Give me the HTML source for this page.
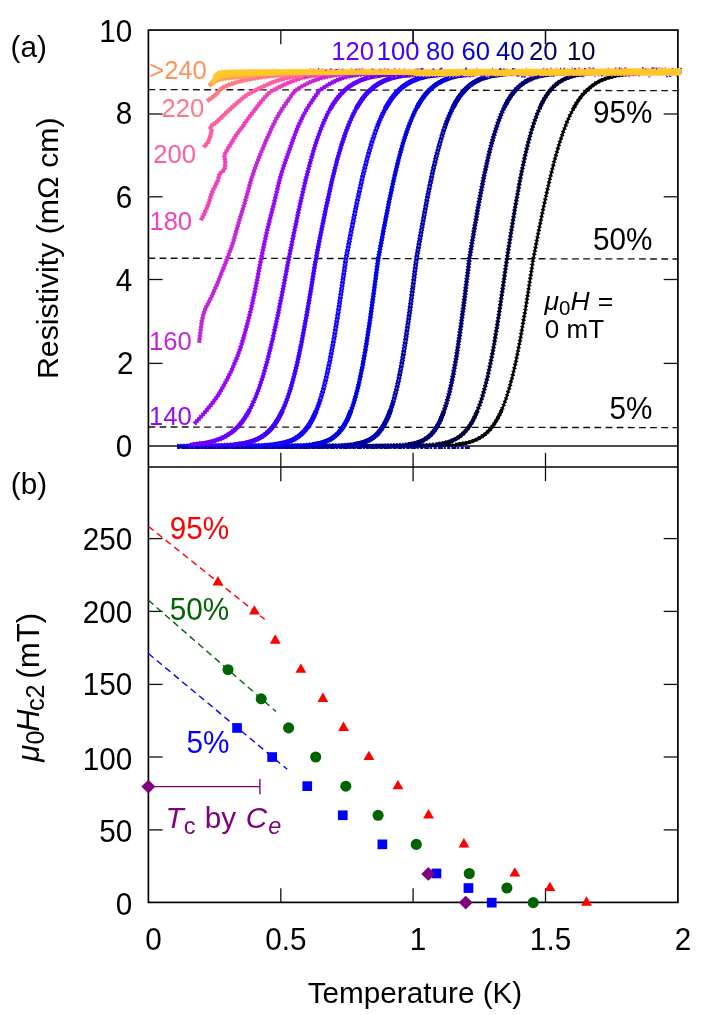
<!DOCTYPE html>
<html><head><meta charset="utf-8"><title>figure</title>
<style>html,body{margin:0;padding:0;background:#fff;}body{width:706px;height:1015px;position:relative;overflow:hidden;font-family:"Liberation Sans",sans-serif;}</style>
</head><body>
<svg width="706" height="1015" viewBox="0 0 706 1015" style="position:absolute;left:0;top:0;will-change:transform">
<rect width="706" height="1015" fill="#fff"/>
<line x1="148.4" y1="446.05" x2="677.9" y2="446.05" stroke="#111" stroke-width="1.4"/>
<line x1="148.4" y1="89.6" x2="677.9" y2="90.7" stroke="#111" stroke-width="1.35" stroke-dasharray="6.8 4.35"/>
<line x1="148.4" y1="258.2" x2="677.9" y2="259.0" stroke="#111" stroke-width="1.35" stroke-dasharray="6.8 4.35"/>
<line x1="148.4" y1="427.0" x2="677.9" y2="427.6" stroke="#111" stroke-width="1.35" stroke-dasharray="6.8 4.35"/>
<g stroke="#000" stroke-width="1.7" fill="none">
<rect x="148.40" y="30.05" width="529.50" height="872.35"/>
<line x1="148.4" y1="467.0" x2="677.9" y2="467.0" stroke-width="1.4"/>
</g>
<g stroke="#111" stroke-width="1.3">
<line x1="280.8" y1="30.1" x2="280.8" y2="44.2"/>
<line x1="280.8" y1="452.8" x2="280.8" y2="481.2"/>
<line x1="280.8" y1="888.2" x2="280.8" y2="902.4"/>
<line x1="413.1" y1="30.1" x2="413.1" y2="44.2"/>
<line x1="413.1" y1="452.8" x2="413.1" y2="481.2"/>
<line x1="413.1" y1="888.2" x2="413.1" y2="902.4"/>
<line x1="545.5" y1="30.1" x2="545.5" y2="44.2"/>
<line x1="545.5" y1="452.8" x2="545.5" y2="481.2"/>
<line x1="545.5" y1="888.2" x2="545.5" y2="902.4"/>
<line x1="148.4" y1="363.4" x2="162.6" y2="363.4"/>
<line x1="663.7" y1="363.4" x2="677.9" y2="363.4"/>
<line x1="148.4" y1="279.5" x2="162.6" y2="279.5"/>
<line x1="663.7" y1="279.5" x2="677.9" y2="279.5"/>
<line x1="148.4" y1="196.8" x2="162.6" y2="196.8"/>
<line x1="663.7" y1="196.8" x2="677.9" y2="196.8"/>
<line x1="148.4" y1="114.0" x2="162.6" y2="114.0"/>
<line x1="663.7" y1="114.0" x2="677.9" y2="114.0"/>
<line x1="148.4" y1="829.9" x2="162.6" y2="829.9"/>
<line x1="663.7" y1="829.9" x2="677.9" y2="829.9"/>
<line x1="148.4" y1="757.0" x2="162.6" y2="757.0"/>
<line x1="663.7" y1="757.0" x2="677.9" y2="757.0"/>
<line x1="148.4" y1="684.4" x2="162.6" y2="684.4"/>
<line x1="663.7" y1="684.4" x2="677.9" y2="684.4"/>
<line x1="148.4" y1="611.4" x2="162.6" y2="611.4"/>
<line x1="663.7" y1="611.4" x2="677.9" y2="611.4"/>
<line x1="148.4" y1="538.6" x2="162.6" y2="538.6"/>
<line x1="663.7" y1="538.6" x2="677.9" y2="538.6"/>
</g>
<g fill="none" stroke-linejoin="round">
<path d="M227.8 446.2 L253.2 446.2 L278.7 446.2 L304.1 446.2 L329.5 446.2 L354.9 446.2 L380.3 446.2 L405.7 446.2 L431.2 445.9 L455.5 444.7 L465.0 443.3 L471.4 441.6 L476.7 439.5 L480.9 437.2 L484.1 435.1 L487.3 432.3 L490.5 429.0 L493.6 424.9 L496.8 419.9 L500.0 413.8 L503.2 406.5 L506.3 397.8 L509.5 387.4 L512.7 375.4 L515.9 361.6 L520.1 340.3 L525.4 309.6 L529.6 282.7 L532.8 261.7 L538.1 233.9 L543.4 207.8 L549.8 179.1 L555.1 158.1 L559.3 143.6 L563.5 131.0 L566.7 122.8 L569.9 115.5 L573.1 109.2 L576.2 103.7 L579.4 98.9 L582.6 94.8 L586.8 90.3 L591.1 86.6 L595.3 83.6 L600.6 80.6 L606.9 78.1 L616.5 75.5 L639.8 72.7 L665.2 71.9 L681.1 71.7" stroke="#000000" stroke-width="2.4"/>
<path d="M227.8 446.2 L253.2 446.2 L278.7 446.2 L304.1 446.2 L329.5 446.2 L354.9 446.2 L380.3 446.2 L405.7 446.2 L431.2 445.9 L455.5 444.7 L465.0 443.3 L471.4 441.6 L476.7 439.5 L480.9 437.2 L484.1 435.1 L487.3 432.3 L490.5 429.0 L493.6 424.9 L496.8 419.9 L500.0 413.8 L503.2 406.5 L506.3 397.8 L509.5 387.4 L512.7 375.4 L515.9 361.6 L520.1 340.3 L525.4 309.6 L529.6 282.7 L532.8 261.7 L538.1 233.9 L543.4 207.8 L549.8 179.1 L555.1 158.1 L559.3 143.6 L563.5 131.0 L566.7 122.8 L569.9 115.5 L573.1 109.2 L576.2 103.7 L579.4 98.9 L582.6 94.8 L586.8 90.3 L591.1 86.6 L595.3 83.6 L600.6 80.6 L606.9 78.1 L616.5 75.5 L639.8 72.7 L665.2 71.9 L681.1 71.7" stroke="#000000" stroke-width="4.4" stroke-dasharray="1.2 2.3"/>
<path d="M455.5 444.7 L465.0 443.3 L471.4 441.6 L476.7 439.5 L480.9 437.2 L484.1 435.1 L487.3 432.3 L490.5 429.0 L493.6 424.9 L496.8 419.9 L500.0 413.8 L502.1 409.1 M573.1 109.2 L576.2 103.7 L579.4 98.9 L582.6 94.8 L586.8 90.3 L591.1 86.6 L595.3 83.6 L600.6 80.6 L606.9 78.1 L616.5 75.5 L639.8 72.7 L665.2 71.9 L681.1 71.7" stroke="#000000" stroke-width="3.4"/>
<path d="M214.6 446.2 L240.0 446.2 L265.4 446.2 L290.8 446.2 L316.3 446.2 L341.7 446.2 L367.1 446.2 L392.5 446.1 L417.9 445.8 L435.9 444.6 L444.4 443.1 L449.7 441.6 L453.9 439.9 L457.1 438.2 L460.3 436.0 L463.5 433.3 L466.6 429.9 L468.7 427.1 L470.9 424.0 L473.0 420.3 L475.1 416.1 L477.2 411.3 L479.3 405.8 L481.5 399.6 L484.6 388.7 L487.8 375.8 L491.0 360.8 L494.2 343.7 L498.4 317.9 L502.6 289.3 L506.9 259.2 L511.1 232.2 L515.3 206.4 L520.6 177.0 L524.9 156.6 L528.1 143.2 L531.2 131.5 L534.4 121.4 L537.6 112.8 L540.8 105.6 L543.9 99.5 L547.1 94.4 L550.3 90.2 L553.5 86.8 L556.6 84.0 L559.8 81.7 L564.1 79.3 L569.4 77.1 L576.8 75.0 L593.7 72.8 L619.1 71.9 L644.5 71.7 L670.0 71.6 L680.5 71.6" stroke="#000038" stroke-width="2.9"/>
<path d="M214.6 446.2 L240.0 446.2 L265.4 446.2 L290.8 446.2 L316.3 446.2 L341.7 446.2 L367.1 446.2 L392.5 446.1 L417.9 445.8 L435.9 444.6 L444.4 443.1 L449.7 441.6 L453.9 439.9 L457.1 438.2 L460.3 436.0 L463.5 433.3 L466.6 429.9 L468.7 427.1 L470.9 424.0 L473.0 420.3 L475.1 416.1 L477.2 411.3 L479.3 405.8 L481.5 399.6 L484.6 388.7 L487.8 375.8 L491.0 360.8 L494.2 343.7 L498.4 317.9 L502.6 289.3 L506.9 259.2 L511.1 232.2 L515.3 206.4 L520.6 177.0 L524.9 156.6 L528.1 143.2 L531.2 131.5 L534.4 121.4 L537.6 112.8 L540.8 105.6 L543.9 99.5 L547.1 94.4 L550.3 90.2 L553.5 86.8 L556.6 84.0 L559.8 81.7 L564.1 79.3 L569.4 77.1 L576.8 75.0 L593.7 72.8 L619.1 71.9 L644.5 71.7 L670.0 71.6 L680.5 71.6" stroke="#000038" stroke-width="4.6" stroke-dasharray="1.5 1.8"/>
<path d="M435.9 444.6 L444.4 443.1 L449.7 441.6 L453.9 439.9 L457.1 438.2 L460.3 436.0 L463.5 433.3 L466.6 429.9 L468.7 427.1 L470.9 424.0 L473.0 420.3 L475.1 416.1 L477.2 411.3 M539.7 107.8 L542.9 101.4 L546.1 96.0 L549.2 91.5 L552.4 87.9 L555.6 84.9 L558.8 82.4 L563.0 79.8 L568.3 77.4 L575.7 75.2 L590.5 73.1 L615.9 72.0 L641.4 71.7 L666.8 71.6 L680.5 71.6" stroke="#000038" stroke-width="3.9"/>
<path d="M201.4 446.2 L226.8 446.2 L252.2 446.2 L277.6 446.2 L303.0 446.2 L328.4 446.2 L353.8 446.2 L379.3 446.1 L403.6 445.2 L412.1 444.0 L417.4 442.7 L421.6 441.1 L424.8 439.4 L428.0 437.2 L430.1 435.4 L432.2 433.2 L434.3 430.6 L436.4 427.5 L438.6 423.8 L440.7 419.5 L442.8 414.4 L444.9 408.4 L447.0 401.4 L449.2 393.4 L451.3 384.1 L453.4 373.7 L456.6 355.6 L459.7 334.6 L464.0 302.8 L467.2 276.9 L469.3 259.2 L473.5 233.8 L478.8 203.3 L484.1 175.8 L488.3 156.6 L491.5 143.9 L494.7 132.8 L497.9 123.0 L501.0 114.6 L504.2 107.5 L507.4 101.4 L510.6 96.3 L513.8 92.0 L516.9 88.5 L520.1 85.5 L524.3 82.4 L528.6 80.0 L533.9 77.7 L541.3 75.5 L556.1 73.3 L581.5 72.1 L606.9 71.8 L632.4 71.7 L657.8 71.6 L681.1 71.6" stroke="#000070" stroke-width="3.4"/>
<path d="M201.4 446.2 L226.8 446.2 L252.2 446.2 L277.6 446.2 L303.0 446.2 L328.4 446.2 L353.8 446.2 L379.3 446.1 L403.6 445.2 L412.1 444.0 L417.4 442.7 L421.6 441.1 L424.8 439.4 L428.0 437.2 L430.1 435.4 L432.2 433.2 L434.3 430.6 L436.4 427.5 L438.6 423.8 L440.7 419.5 L442.8 414.4 L444.9 408.4 L447.0 401.4 L449.2 393.4 L451.3 384.1 L453.4 373.7 L456.6 355.6 L459.7 334.6 L464.0 302.8 L467.2 276.9 L469.3 259.2 L473.5 233.8 L478.8 203.3 L484.1 175.8 L488.3 156.6 L491.5 143.9 L494.7 132.8 L497.9 123.0 L501.0 114.6 L504.2 107.5 L507.4 101.4 L510.6 96.3 L513.8 92.0 L516.9 88.5 L520.1 85.5 L524.3 82.4 L528.6 80.0 L533.9 77.7 L541.3 75.5 L556.1 73.3 L581.5 72.1 L606.9 71.8 L632.4 71.7 L657.8 71.6 L681.1 71.6" stroke="#000070" stroke-width="5.0" stroke-dasharray="1.4 1.6"/>
<path d="M407.9 444.7 L415.3 443.3 L419.5 441.9 L422.7 440.6 L425.9 438.7 L429.0 436.3 L431.2 434.3 L433.3 432.0 L435.4 429.1 L437.5 425.7 L439.6 421.7 L441.7 417.0 L443.9 411.5 M504.2 107.5 L507.4 101.4 L510.6 96.3 L513.8 92.0 L516.9 88.5 L520.1 85.5 L524.3 82.4 L528.6 80.0 L533.9 77.7 L541.3 75.5 L556.1 73.3 L581.5 72.1 L606.9 71.8 L632.4 71.7 L657.8 71.6 L681.1 71.6" stroke="#000070" stroke-width="4.4"/>
<path d="M188.1 446.2 L213.5 446.2 L238.9 446.2 L264.4 446.2 L289.8 446.2 L315.2 446.1 L340.6 445.7 L354.4 444.5 L360.7 443.2 L365.0 441.9 L369.2 440.0 L372.4 438.1 L375.6 435.6 L377.7 433.6 L379.8 431.1 L381.9 428.2 L384.0 424.8 L386.1 420.8 L388.3 416.1 L390.4 410.6 L392.5 404.2 L394.6 396.9 L396.7 388.4 L398.9 378.9 L402.0 362.3 L405.2 343.0 L409.4 313.5 L413.7 280.7 L415.8 263.6 L416.9 256.2 L422.2 226.0 L427.4 197.4 L432.7 171.7 L437.0 153.8 L440.2 142.0 L443.3 131.5 L446.5 122.3 L449.7 114.4 L452.9 107.6 L456.0 101.8 L459.2 96.8 L462.4 92.7 L465.6 89.2 L468.7 86.3 L473.0 83.1 L477.2 80.6 L482.5 78.3 L489.9 76.0 L504.8 73.7 L530.2 72.4 L555.6 72.0 L581.0 71.9 L606.4 71.8 L631.8 71.7 L657.2 71.6 L680.5 71.6" stroke="#0000a8" stroke-width="4.0"/>
<path d="M188.1 446.2 L213.5 446.2 L238.9 446.2 L264.4 446.2 L289.8 446.2 L315.2 446.1 L340.6 445.7 L354.4 444.5 L360.7 443.2 L365.0 441.9 L369.2 440.0 L372.4 438.1 L375.6 435.6 L377.7 433.6 L379.8 431.1 L381.9 428.2 L384.0 424.8 L386.1 420.8 L388.3 416.1 L390.4 410.6 L392.5 404.2 L394.6 396.9 L396.7 388.4 L398.9 378.9 L402.0 362.3 L405.2 343.0 L409.4 313.5 L413.7 280.7 L415.8 263.6 L416.9 256.2 L422.2 226.0 L427.4 197.4 L432.7 171.7 L437.0 153.8 L440.2 142.0 L443.3 131.5 L446.5 122.3 L449.7 114.4 L452.9 107.6 L456.0 101.8 L459.2 96.8 L462.4 92.7 L465.6 89.2 L468.7 86.3 L473.0 83.1 L477.2 80.6 L482.5 78.3 L489.9 76.0 L504.8 73.7 L530.2 72.4 L555.6 72.0 L581.0 71.9 L606.4 71.8 L631.8 71.7 L657.2 71.6 L680.5 71.6" stroke="#0000a8" stroke-width="5.0" stroke-dasharray="1.5 1.5"/>
<path d="M353.3 444.6 L360.7 443.2 L365.0 441.9 L369.2 440.0 L372.4 438.1 L375.6 435.6 L377.7 433.6 L379.8 431.1 L381.9 428.2 L384.0 424.8 L386.1 420.8 L388.3 416.1 L390.4 410.6 M452.9 107.6 L456.0 101.8 L459.2 96.8 L462.4 92.7 L465.6 89.2 L468.7 86.3 L473.0 83.1 L477.2 80.6 L482.5 78.3 L489.9 76.0 L504.8 73.7 L530.2 72.4 L555.6 72.0 L581.0 71.9 L606.4 71.8 L631.8 71.7 L657.2 71.6 L680.5 71.6" stroke="#0000a8" stroke-width="5.0"/>
<path d="M393.6 400.7 L395.7 392.8 L397.8 383.8 L401.0 368.1 L404.1 349.8 L408.4 321.3 L412.6 289.1 L415.8 263.6 L416.9 256.2 L422.2 226.0 L427.4 197.4 L432.7 171.7 L437.0 153.8 L440.2 142.0 L443.3 131.5 L445.4 125.2" stroke="#fff" stroke-opacity="0.45" stroke-width="1.3" stroke-dasharray="1.6 2.4"/>
<path d="M177.3 446.2 L202.7 446.2 L228.1 446.2 L253.5 446.2 L278.9 446.1 L304.3 445.4 L316.0 444.1 L322.3 442.6 L326.6 441.1 L329.8 439.6 L332.9 437.7 L336.1 435.2 L338.2 433.1 L340.3 430.7 L342.5 427.9 L344.6 424.6 L346.7 420.7 L348.8 416.2 L350.9 410.9 L353.1 404.9 L355.2 397.9 L357.3 390.0 L359.4 381.1 L362.6 365.6 L365.8 347.7 L370.0 320.1 L374.2 289.2 L377.4 264.7 L378.5 257.3 L383.8 228.7 L389.1 201.5 L394.4 176.7 L398.6 159.2 L402.8 143.8 L406.0 133.7 L409.2 124.7 L412.4 116.9 L415.5 110.1 L418.7 104.3 L421.9 99.3 L425.1 95.0 L428.2 91.3 L431.4 88.2 L435.7 84.9 L439.9 82.2 L445.2 79.6 L452.6 77.0 L464.2 74.7 L489.7 72.7 L515.1 72.2 L540.5 72.0 L565.9 71.9 L591.3 71.8 L616.7 71.8 L642.2 71.7 L667.6 71.6 L680.3 71.6" stroke="#0000e0" stroke-width="3.8"/>
<path d="M177.3 446.2 L202.7 446.2 L228.1 446.2 L253.5 446.2 L278.9 446.1 L304.3 445.4 L316.0 444.1 L322.3 442.6 L326.6 441.1 L329.8 439.6 L332.9 437.7 L336.1 435.2 L338.2 433.1 L340.3 430.7 L342.5 427.9 L344.6 424.6 L346.7 420.7 L348.8 416.2 L350.9 410.9 L353.1 404.9 L355.2 397.9 L357.3 390.0 L359.4 381.1 L362.6 365.6 L365.8 347.7 L370.0 320.1 L374.2 289.2 L377.4 264.7 L378.5 257.3 L383.8 228.7 L389.1 201.5 L394.4 176.7 L398.6 159.2 L402.8 143.8 L406.0 133.7 L409.2 124.7 L412.4 116.9 L415.5 110.1 L418.7 104.3 L421.9 99.3 L425.1 95.0 L428.2 91.3 L431.4 88.2 L435.7 84.9 L439.9 82.2 L445.2 79.6 L452.6 77.0 L464.2 74.7 L489.7 72.7 L515.1 72.2 L540.5 72.0 L565.9 71.9 L591.3 71.8 L616.7 71.8 L642.2 71.7 L667.6 71.6 L680.3 71.6" stroke="#0000e0" stroke-width="4.8" stroke-dasharray="1.3 1.7"/>
<path d="M312.8 444.6 L320.2 443.2 L325.5 441.6 L329.8 439.6 L332.9 437.7 L336.1 435.2 L338.2 433.1 L340.3 430.7 L342.5 427.9 L344.6 424.6 L346.7 420.7 L348.8 416.2 L350.9 410.9 M416.6 108.1 L419.8 102.5 L422.9 97.8 L426.1 93.7 L429.3 90.2 L433.5 86.5 L437.8 83.4 L443.1 80.5 L449.4 78.0 L459.0 75.5 L484.4 72.9 L509.8 72.3 L535.2 72.1 L560.6 71.9 L586.0 71.9 L611.4 71.8 L636.9 71.7 L662.3 71.6 L680.3 71.6" stroke="#0000e0" stroke-width="4.8"/>
<path d="M186.0 446.2 L211.4 446.2 L236.8 446.1 L262.2 445.6 L277.1 444.2 L284.5 442.8 L289.8 441.1 L294.0 439.2 L297.2 437.3 L300.4 434.9 L303.5 431.9 L305.7 429.6 L307.8 426.8 L309.9 423.6 L312.0 419.9 L314.1 415.7 L316.3 410.8 L318.4 405.3 L320.5 399.0 L323.7 388.1 L326.8 375.2 L330.0 360.2 L334.3 336.9 L338.5 310.4 L342.7 281.4 L345.9 259.0 L351.2 231.2 L356.5 204.7 L362.8 175.8 L367.1 158.9 L371.3 144.0 L375.6 131.2 L378.7 122.8 L381.9 115.5 L385.1 109.1 L388.3 103.6 L391.4 98.8 L394.6 94.7 L397.8 91.2 L402.0 87.4 L406.3 84.3 L411.6 81.3 L417.9 78.6 L427.4 76.0 L449.7 73.3 L475.1 72.5 L500.5 72.2 L525.9 72.1 L551.3 72.0 L576.8 71.9 L602.2 71.8 L627.6 71.7 L653.0 71.6 L678.4 71.6 L680.5 71.6" stroke="#1400ff" stroke-width="4.0"/>
<path d="M186.0 446.2 L211.4 446.2 L236.8 446.1 L262.2 445.6 L277.1 444.2 L284.5 442.8 L289.8 441.1 L294.0 439.2 L297.2 437.3 L300.4 434.9 L303.5 431.9 L305.7 429.6 L307.8 426.8 L309.9 423.6 L312.0 419.9 L314.1 415.7 L316.3 410.8 L318.4 405.3 L320.5 399.0 L323.7 388.1 L326.8 375.2 L330.0 360.2 L334.3 336.9 L338.5 310.4 L342.7 281.4 L345.9 259.0 L351.2 231.2 L356.5 204.7 L362.8 175.8 L367.1 158.9 L371.3 144.0 L375.6 131.2 L378.7 122.8 L381.9 115.5 L385.1 109.1 L388.3 103.6 L391.4 98.8 L394.6 94.7 L397.8 91.2 L402.0 87.4 L406.3 84.3 L411.6 81.3 L417.9 78.6 L427.4 76.0 L449.7 73.3 L475.1 72.5 L500.5 72.2 L525.9 72.1 L551.3 72.0 L576.8 71.9 L602.2 71.8 L627.6 71.7 L653.0 71.6 L678.4 71.6 L680.5 71.6" stroke="#1400ff" stroke-width="5.0" stroke-dasharray="1.5 1.5"/>
<path d="M273.9 444.7 L282.4 443.3 L288.7 441.5 L293.0 439.7 L296.1 438.0 L299.3 435.8 L302.5 433.0 L305.7 429.6 L307.8 426.8 L309.9 423.6 L312.0 419.9 L314.1 415.7 L316.3 410.8 M385.1 109.1 L388.3 103.6 L391.4 98.8 L394.6 94.7 L397.8 91.2 L402.0 87.4 L406.3 84.3 L411.6 81.3 L417.9 78.6 L427.4 76.0 L449.7 73.3 L475.1 72.5 L500.5 72.2 L525.9 72.1 L551.3 72.0 L576.8 71.9 L602.2 71.8 L627.6 71.7 L653.0 71.6 L678.4 71.6 L680.5 71.6" stroke="#1400ff" stroke-width="5.0"/>
<path d="M320.5 399.0 L323.7 388.1 L326.8 375.2 L330.0 360.2 L334.3 336.9 L338.5 310.4 L342.7 281.4 L345.9 259.0 L351.2 231.2 L356.5 204.7 L362.8 175.8 L367.1 158.9 L371.3 144.0 L375.6 131.2 L377.7 125.5" stroke="#fff" stroke-opacity="0.45" stroke-width="1.3" stroke-dasharray="1.6 2.4"/>
<path d="M188.1 446.1 L213.5 445.8 L236.8 444.4 L246.4 442.8 L252.7 441.0 L258.0 438.8 L262.2 436.4 L265.4 434.2 L268.6 431.4 L271.8 428.0 L275.0 423.9 L278.1 419.0 L281.3 413.0 L284.5 405.9 L287.7 397.5 L290.8 387.7 L294.0 376.3 L297.2 363.3 L301.4 343.3 L306.7 314.6 L311.0 289.3 L315.2 262.8 L320.5 235.0 L325.8 208.8 L332.1 180.0 L337.4 159.0 L341.7 144.4 L345.9 131.8 L349.1 123.6 L352.3 116.3 L355.4 109.9 L358.6 104.4 L361.8 99.7 L365.0 95.5 L369.2 91.0 L373.4 87.3 L377.7 84.3 L383.0 81.3 L389.3 78.7 L398.9 76.2 L422.2 73.4 L447.6 72.5 L473.0 72.3 L498.4 72.1 L523.8 72.1 L549.2 72.0 L574.6 71.9 L600.1 71.8 L625.5 71.7 L650.9 71.6 L676.3 71.6 L680.5 71.6" stroke="#4000ff" stroke-width="3.8"/>
<path d="M188.1 446.1 L213.5 445.8 L236.8 444.4 L246.4 442.8 L252.7 441.0 L258.0 438.8 L262.2 436.4 L265.4 434.2 L268.6 431.4 L271.8 428.0 L275.0 423.9 L278.1 419.0 L281.3 413.0 L284.5 405.9 L287.7 397.5 L290.8 387.7 L294.0 376.3 L297.2 363.3 L301.4 343.3 L306.7 314.6 L311.0 289.3 L315.2 262.8 L320.5 235.0 L325.8 208.8 L332.1 180.0 L337.4 159.0 L341.7 144.4 L345.9 131.8 L349.1 123.6 L352.3 116.3 L355.4 109.9 L358.6 104.4 L361.8 99.7 L365.0 95.5 L369.2 91.0 L373.4 87.3 L377.7 84.3 L383.0 81.3 L389.3 78.7 L398.9 76.2 L422.2 73.4 L447.6 72.5 L473.0 72.3 L498.4 72.1 L523.8 72.1 L549.2 72.0 L574.6 71.9 L600.1 71.8 L625.5 71.7 L650.9 71.6 L676.3 71.6 L680.5 71.6" stroke="#4000ff" stroke-width="4.8" stroke-dasharray="1.3 1.7"/>
<path d="M234.7 444.6 L245.3 443.0 L251.7 441.4 L256.9 439.3 L261.2 437.1 L264.4 435.0 L267.5 432.4 L270.7 429.2 L273.9 425.4 L277.1 420.7 L280.2 415.1 L282.4 410.8 M356.5 108.0 L359.7 102.8 L362.8 98.2 L366.0 94.3 L370.3 90.0 L374.5 86.4 L378.7 83.6 L384.0 80.8 L391.4 78.0 L402.0 75.6 L427.4 73.1 L452.9 72.5 L478.3 72.2 L503.7 72.1 L529.1 72.0 L554.5 72.0 L579.9 71.9 L605.4 71.8 L630.8 71.7 L656.2 71.6 L680.5 71.6" stroke="#4000ff" stroke-width="4.8"/>
<path d="M190.2 444.9 L205.1 443.1 L213.5 441.2 L219.9 439.0 L225.2 436.5 L229.4 433.9 L233.6 430.7 L236.8 427.8 L240.0 424.3 L243.2 420.3 L246.4 415.6 L249.5 410.1 L252.7 403.7 L255.9 396.4 L259.1 388.0 L263.3 375.1 L267.5 360.1 L272.8 338.5 L278.1 313.9 L283.4 287.1 L288.7 259.1 L294.0 232.8 L299.3 207.5 L305.7 179.7 L311.0 159.4 L315.2 145.1 L319.4 132.8 L323.7 122.2 L326.8 115.3 L330.0 109.3 L333.2 104.0 L336.4 99.4 L340.6 94.3 L344.8 90.1 L349.1 86.6 L354.4 83.3 L360.7 80.2 L369.2 77.4 L383.0 74.8 L408.4 73.0 L433.8 72.5 L459.2 72.3 L484.6 72.2 L510.0 72.1 L535.5 72.0 L560.9 71.9 L586.3 71.9 L611.7 71.8 L637.1 71.7 L662.5 71.6 L680.5 71.6" stroke="#6c00ff" stroke-width="3.4"/>
<path d="M190.2 444.9 L205.1 443.1 L213.5 441.2 L219.9 439.0 L225.2 436.5 L229.4 433.9 L233.6 430.7 L236.8 427.8 L240.0 424.3 L243.2 420.3 L246.4 415.6 L249.5 410.1 L252.7 403.7 L255.9 396.4 L259.1 388.0 L263.3 375.1 L267.5 360.1 L272.8 338.5 L278.1 313.9 L283.4 287.1 L288.7 259.1 L294.0 232.8 L299.3 207.5 L305.7 179.7 L311.0 159.4 L315.2 145.1 L319.4 132.8 L323.7 122.2 L326.8 115.3 L330.0 109.3 L333.2 104.0 L336.4 99.4 L340.6 94.3 L344.8 90.1 L349.1 86.6 L354.4 83.3 L360.7 80.2 L369.2 77.4 L383.0 74.8 L408.4 73.0 L433.8 72.5 L459.2 72.3 L484.6 72.2 L510.0 72.1 L535.5 72.0 L560.9 71.9 L586.3 71.9 L611.7 71.8 L637.1 71.7 L662.5 71.6 L680.5 71.6" stroke="#6c00ff" stroke-width="4.8" stroke-dasharray="1.4 1.6"/>
<path d="M192.3 444.7 L206.1 442.9 L214.6 440.8 L220.9 438.5 L226.2 435.9 L230.5 433.2 L234.7 429.8 L237.9 426.7 L241.1 423.1 L244.2 418.8 L247.4 413.8 L249.5 410.1 M330.0 109.3 L333.2 104.0 L336.4 99.4 L340.6 94.3 L344.8 90.1 L349.1 86.6 L354.4 83.3 L360.7 80.2 L369.2 77.4 L383.0 74.8 L408.4 73.0 L433.8 72.5 L459.2 72.3 L484.6 72.2 L510.0 72.1 L535.5 72.0 L560.9 71.9 L586.3 71.9 L611.7 71.8 L637.1 71.7 L662.5 71.6 L680.5 71.6" stroke="#6c00ff" stroke-width="4.4"/>
<path d="M194.4 423.8 C196.1 421.9 201.1 416.8 204.7 412.5 C208.3 408.2 212.7 403.0 216.0 398.3 C219.3 393.6 221.7 389.3 224.5 384.1 C227.3 378.9 230.2 373.7 233.0 367.1 C235.8 360.5 238.7 353.5 241.5 344.5 C244.3 335.5 247.7 322.8 250.0 313.3 C252.3 303.9 253.7 297.0 255.6 287.8 C257.5 278.6 259.4 267.5 261.3 258.1 C263.2 248.7 264.9 240.4 267.0 231.2 C269.1 222.0 271.8 212.2 274.1 202.8 C276.5 193.4 278.5 183.5 281.1 174.6 C283.7 165.7 286.8 157.2 289.6 149.2 C292.4 141.2 295.3 133.1 298.1 126.5 C300.9 119.9 303.3 115.2 306.6 109.5 C309.9 103.8 315.6 95.8 318.0 92.5 C320.4 89.2 318.4 91.4 320.8 89.7 C323.2 88.0 327.9 84.7 332.1 82.6 C336.4 80.5 340.8 78.3 346.3 76.9 C351.8 75.5 357.7 74.7 365.0 74.0 C372.3 73.3 380.8 73.2 390.0 72.9 C399.2 72.7 411.7 72.6 420.0 72.5 C428.3 72.4 433.3 72.4 440.0 72.3 C446.7 72.3 453.3 72.3 460.0 72.2 C466.7 72.2 473.3 72.2 480.0 72.2 C486.7 72.2 493.3 72.1 500.0 72.1 C506.7 72.1 513.3 72.1 520.0 72.1 C526.7 72.0 533.3 72.0 540.0 72.0 C546.7 72.0 553.3 72.0 560.0 71.9 C566.7 71.9 573.3 71.9 580.0 71.9 C586.7 71.9 593.3 71.8 600.0 71.8 C606.7 71.8 613.3 71.8 620.0 71.7 C626.7 71.7 633.3 71.7 640.0 71.7 C646.7 71.7 653.2 71.6 660.0 71.6 C666.8 71.6 677.4 71.6 680.9 71.6" stroke="#970af5" stroke-width="3.4"/>
<path d="M194.4 423.8 C196.1 421.9 201.1 416.8 204.7 412.5 C208.3 408.2 212.7 403.0 216.0 398.3 C219.3 393.6 221.7 389.3 224.5 384.1 C227.3 378.9 230.2 373.7 233.0 367.1 C235.8 360.5 238.7 353.5 241.5 344.5 C244.3 335.5 247.7 322.8 250.0 313.3 C252.3 303.9 253.7 297.0 255.6 287.8 C257.5 278.6 259.4 267.5 261.3 258.1 C263.2 248.7 264.9 240.4 267.0 231.2 C269.1 222.0 271.8 212.2 274.1 202.8 C276.5 193.4 278.5 183.5 281.1 174.6 C283.7 165.7 286.8 157.2 289.6 149.2 C292.4 141.2 295.3 133.1 298.1 126.5 C300.9 119.9 303.3 115.2 306.6 109.5 C309.9 103.8 315.6 95.8 318.0 92.5 C320.4 89.2 318.4 91.4 320.8 89.7 C323.2 88.0 327.9 84.7 332.1 82.6 C336.4 80.5 340.8 78.3 346.3 76.9 C351.8 75.5 357.7 74.7 365.0 74.0 C372.3 73.3 380.8 73.2 390.0 72.9 C399.2 72.7 411.7 72.6 420.0 72.5 C428.3 72.4 433.3 72.4 440.0 72.3 C446.7 72.3 453.3 72.3 460.0 72.2 C466.7 72.2 473.3 72.2 480.0 72.2 C486.7 72.2 493.3 72.1 500.0 72.1 C506.7 72.1 513.3 72.1 520.0 72.1 C526.7 72.0 533.3 72.0 540.0 72.0 C546.7 72.0 553.3 72.0 560.0 71.9 C566.7 71.9 573.3 71.9 580.0 71.9 C586.7 71.9 593.3 71.8 600.0 71.8 C606.7 71.8 613.3 71.8 620.0 71.7 C626.7 71.7 633.3 71.7 640.0 71.7 C646.7 71.7 653.2 71.6 660.0 71.6 C666.8 71.6 677.4 71.6 680.9 71.6" stroke="#970af5" stroke-width="4.8" stroke-dasharray="1.4 1.6"/>
<path d="M199.1 342.6 C199.6 339.1 200.9 327.2 201.8 321.8 C202.7 316.4 203.0 314.8 204.7 310.5 C206.3 306.2 209.1 302.0 211.7 296.3 C214.3 290.6 217.6 282.9 220.2 276.5 C222.8 270.1 225.2 263.8 227.3 258.1 C229.4 252.4 231.1 248.4 233.0 242.5 C234.9 236.6 236.8 229.1 238.7 222.7 C240.6 216.3 242.0 212.2 244.3 204.2 C246.7 196.2 250.0 183.3 252.8 174.6 C255.6 165.9 258.5 159.1 261.3 152.0 C264.1 144.9 267.0 138.3 269.8 132.2 C272.6 126.1 275.0 120.9 278.3 115.2 C281.6 109.5 286.5 102.5 289.6 98.2 C292.7 94.0 292.9 92.5 296.7 89.7 C300.5 86.9 306.9 83.5 312.3 81.2 C317.7 78.9 323.6 77.3 329.3 76.1 C335.0 74.9 339.5 74.3 346.3 73.8 C353.1 73.3 361.1 73.1 370.0 72.9 C378.9 72.7 391.7 72.6 400.0 72.5 C408.3 72.4 413.3 72.4 420.0 72.4 C426.7 72.3 433.3 72.3 440.0 72.3 C446.7 72.3 453.3 72.3 460.0 72.2 C466.7 72.2 473.3 72.2 480.0 72.2 C486.7 72.2 493.3 72.1 500.0 72.1 C506.7 72.1 513.3 72.1 520.0 72.1 C526.7 72.0 533.3 72.0 540.0 72.0 C546.7 72.0 553.3 72.0 560.0 71.9 C566.7 71.9 573.3 71.9 580.0 71.9 C586.7 71.9 593.3 71.8 600.0 71.8 C606.7 71.8 613.3 71.8 620.0 71.7 C626.7 71.7 633.3 71.7 640.0 71.7 C646.7 71.7 653.2 71.6 660.0 71.6 C666.8 71.6 677.4 71.6 680.9 71.6" stroke="#c326d9" stroke-width="3.4"/>
<path d="M199.1 342.6 C199.6 339.1 200.9 327.2 201.8 321.8 C202.7 316.4 203.0 314.8 204.7 310.5 C206.3 306.2 209.1 302.0 211.7 296.3 C214.3 290.6 217.6 282.9 220.2 276.5 C222.8 270.1 225.2 263.8 227.3 258.1 C229.4 252.4 231.1 248.4 233.0 242.5 C234.9 236.6 236.8 229.1 238.7 222.7 C240.6 216.3 242.0 212.2 244.3 204.2 C246.7 196.2 250.0 183.3 252.8 174.6 C255.6 165.9 258.5 159.1 261.3 152.0 C264.1 144.9 267.0 138.3 269.8 132.2 C272.6 126.1 275.0 120.9 278.3 115.2 C281.6 109.5 286.5 102.5 289.6 98.2 C292.7 94.0 292.9 92.5 296.7 89.7 C300.5 86.9 306.9 83.5 312.3 81.2 C317.7 78.9 323.6 77.3 329.3 76.1 C335.0 74.9 339.5 74.3 346.3 73.8 C353.1 73.3 361.1 73.1 370.0 72.9 C378.9 72.7 391.7 72.6 400.0 72.5 C408.3 72.4 413.3 72.4 420.0 72.4 C426.7 72.3 433.3 72.3 440.0 72.3 C446.7 72.3 453.3 72.3 460.0 72.2 C466.7 72.2 473.3 72.2 480.0 72.2 C486.7 72.2 493.3 72.1 500.0 72.1 C506.7 72.1 513.3 72.1 520.0 72.1 C526.7 72.0 533.3 72.0 540.0 72.0 C546.7 72.0 553.3 72.0 560.0 71.9 C566.7 71.9 573.3 71.9 580.0 71.9 C586.7 71.9 593.3 71.8 600.0 71.8 C606.7 71.8 613.3 71.8 620.0 71.7 C626.7 71.7 633.3 71.7 640.0 71.7 C646.7 71.7 653.2 71.6 660.0 71.6 C666.8 71.6 677.4 71.6 680.9 71.6" stroke="#c326d9" stroke-width="4.7" stroke-dasharray="1.4 1.6"/>
<path d="M201.0 220.3 C201.9 218.4 205.1 212.2 206.6 208.6 C208.1 205.0 209.0 202.0 210.0 199.0 C211.0 196.0 211.5 193.7 212.8 190.7 C214.1 187.7 216.4 183.8 217.6 181.0 C218.8 178.2 218.6 176.0 219.7 174.1 C220.8 172.2 223.4 171.4 224.3 169.3 C225.2 167.2 225.1 164.1 225.2 161.7 C225.3 159.3 223.9 157.6 224.7 154.8 C225.5 152.1 228.0 148.6 230.0 145.2 C232.0 141.8 234.7 137.3 236.9 134.1 C239.1 130.9 241.7 127.9 243.1 125.9 C244.5 124.0 243.7 124.5 245.2 122.4 C246.7 120.3 249.3 117.0 252.1 113.4 C254.8 109.8 258.8 104.4 261.7 101.0 C264.6 97.6 267.0 94.8 269.3 92.8 C271.6 90.8 272.1 90.8 275.5 89.0 C278.9 87.2 284.4 84.3 289.6 82.3 C294.8 80.3 300.0 78.3 306.6 76.9 C313.2 75.5 320.4 74.5 329.3 73.8 C338.2 73.1 348.2 73.1 360.0 72.9 C371.8 72.7 390.0 72.7 400.0 72.6 C410.0 72.5 413.3 72.4 420.0 72.4 C426.7 72.3 433.3 72.3 440.0 72.3 C446.7 72.3 453.3 72.3 460.0 72.2 C466.7 72.2 473.3 72.2 480.0 72.2 C486.7 72.2 493.3 72.1 500.0 72.1 C506.7 72.1 513.3 72.1 520.0 72.1 C526.7 72.0 533.3 72.0 540.0 72.0 C546.7 72.0 553.3 72.0 560.0 71.9 C566.7 71.9 573.3 71.9 580.0 71.9 C586.7 71.9 593.3 71.8 600.0 71.8 C606.7 71.8 613.3 71.8 620.0 71.7 C626.7 71.7 633.3 71.7 640.0 71.7 C646.7 71.7 653.2 71.6 660.0 71.6 C666.8 71.6 677.4 71.6 680.9 71.6" stroke="#ef42bd" stroke-width="3.5"/>
<path d="M201.0 220.3 C201.9 218.4 205.1 212.2 206.6 208.6 C208.1 205.0 209.0 202.0 210.0 199.0 C211.0 196.0 211.5 193.7 212.8 190.7 C214.1 187.7 216.4 183.8 217.6 181.0 C218.8 178.2 218.6 176.0 219.7 174.1 C220.8 172.2 223.4 171.4 224.3 169.3 C225.2 167.2 225.1 164.1 225.2 161.7 C225.3 159.3 223.9 157.6 224.7 154.8 C225.5 152.1 228.0 148.6 230.0 145.2 C232.0 141.8 234.7 137.3 236.9 134.1 C239.1 130.9 241.7 127.9 243.1 125.9 C244.5 124.0 243.7 124.5 245.2 122.4 C246.7 120.3 249.3 117.0 252.1 113.4 C254.8 109.8 258.8 104.4 261.7 101.0 C264.6 97.6 267.0 94.8 269.3 92.8 C271.6 90.8 272.1 90.8 275.5 89.0 C278.9 87.2 284.4 84.3 289.6 82.3 C294.8 80.3 300.0 78.3 306.6 76.9 C313.2 75.5 320.4 74.5 329.3 73.8 C338.2 73.1 348.2 73.1 360.0 72.9 C371.8 72.7 390.0 72.7 400.0 72.6 C410.0 72.5 413.3 72.4 420.0 72.4 C426.7 72.3 433.3 72.3 440.0 72.3 C446.7 72.3 453.3 72.3 460.0 72.2 C466.7 72.2 473.3 72.2 480.0 72.2 C486.7 72.2 493.3 72.1 500.0 72.1 C506.7 72.1 513.3 72.1 520.0 72.1 C526.7 72.0 533.3 72.0 540.0 72.0 C546.7 72.0 553.3 72.0 560.0 71.9 C566.7 71.9 573.3 71.9 580.0 71.9 C586.7 71.9 593.3 71.8 600.0 71.8 C606.7 71.8 613.3 71.8 620.0 71.7 C626.7 71.7 633.3 71.7 640.0 71.7 C646.7 71.7 653.2 71.6 660.0 71.6 C666.8 71.6 677.4 71.6 680.9 71.6" stroke="#ef42bd" stroke-width="4.8" stroke-dasharray="1.4 1.6"/>
<path d="M203.8 147.2 C204.6 146.2 207.3 143.6 208.6 141.0 C209.9 138.4 211.0 133.8 211.4 131.4 C211.8 129.0 209.9 128.3 210.9 126.6 C211.9 124.9 214.2 124.1 217.6 121.0 C221.0 117.9 226.8 112.0 231.4 107.9 C236.0 103.8 241.3 99.1 245.2 96.2 C249.1 93.3 252.8 91.8 254.8 90.7 C256.8 89.6 253.7 91.0 257.1 89.4 C260.6 87.8 269.1 83.4 275.5 81.2 C281.9 79.0 288.2 77.4 295.3 76.1 C302.4 74.8 308.9 74.0 318.0 73.4 C327.1 72.8 336.3 72.9 350.0 72.7 C363.7 72.5 388.3 72.6 400.0 72.5 C411.7 72.4 413.3 72.4 420.0 72.4 C426.7 72.3 433.3 72.3 440.0 72.3 C446.7 72.3 453.3 72.3 460.0 72.2 C466.7 72.2 473.3 72.2 480.0 72.2 C486.7 72.2 493.3 72.1 500.0 72.1 C506.7 72.1 513.3 72.1 520.0 72.1 C526.7 72.0 533.3 72.0 540.0 72.0 C546.7 72.0 553.3 72.0 560.0 71.9 C566.7 71.9 573.3 71.9 580.0 71.9 C586.7 71.9 593.3 71.8 600.0 71.8 C606.7 71.8 613.3 71.8 620.0 71.7 C626.7 71.7 633.3 71.7 640.0 71.7 C646.7 71.7 653.2 71.6 660.0 71.6 C666.8 71.6 677.4 71.6 680.9 71.6" stroke="#ff5ea1" stroke-width="3.8"/>
<path d="M203.8 147.2 C204.6 146.2 207.3 143.6 208.6 141.0 C209.9 138.4 211.0 133.8 211.4 131.4 C211.8 129.0 209.9 128.3 210.9 126.6 C211.9 124.9 214.2 124.1 217.6 121.0 C221.0 117.9 226.8 112.0 231.4 107.9 C236.0 103.8 241.3 99.1 245.2 96.2 C249.1 93.3 252.8 91.8 254.8 90.7 C256.8 89.6 253.7 91.0 257.1 89.4 C260.6 87.8 269.1 83.4 275.5 81.2 C281.9 79.0 288.2 77.4 295.3 76.1 C302.4 74.8 308.9 74.0 318.0 73.4 C327.1 72.8 336.3 72.9 350.0 72.7 C363.7 72.5 388.3 72.6 400.0 72.5 C411.7 72.4 413.3 72.4 420.0 72.4 C426.7 72.3 433.3 72.3 440.0 72.3 C446.7 72.3 453.3 72.3 460.0 72.2 C466.7 72.2 473.3 72.2 480.0 72.2 C486.7 72.2 493.3 72.1 500.0 72.1 C506.7 72.1 513.3 72.1 520.0 72.1 C526.7 72.0 533.3 72.0 540.0 72.0 C546.7 72.0 553.3 72.0 560.0 71.9 C566.7 71.9 573.3 71.9 580.0 71.9 C586.7 71.9 593.3 71.8 600.0 71.8 C606.7 71.8 613.3 71.8 620.0 71.7 C626.7 71.7 633.3 71.7 640.0 71.7 C646.7 71.7 653.2 71.6 660.0 71.6 C666.8 71.6 677.4 71.6 680.9 71.6" stroke="#ff5ea1" stroke-width="4.8" stroke-dasharray="1.3 1.7"/>
<path d="M207.2 101.0 C208.5 100.1 212.7 97.3 214.8 95.5 C216.9 93.7 218.2 91.6 219.7 90.2 C221.2 88.8 221.8 88.1 224.0 87.0 C226.2 85.9 229.1 84.6 233.0 83.4 C236.9 82.2 241.1 80.9 247.2 79.7 C253.3 78.5 261.8 77.1 269.8 76.1 C277.8 75.1 287.3 74.3 295.3 73.8 C303.3 73.2 307.2 73.0 318.0 72.8 C328.8 72.6 346.3 72.6 360.0 72.6 C373.7 72.5 390.0 72.5 400.0 72.5 C410.0 72.5 413.3 72.4 420.0 72.4 C426.7 72.3 433.3 72.3 440.0 72.3 C446.7 72.3 453.3 72.3 460.0 72.2 C466.7 72.2 473.3 72.2 480.0 72.2 C486.7 72.2 493.3 72.1 500.0 72.1 C506.7 72.1 513.3 72.1 520.0 72.1 C526.7 72.0 533.3 72.0 540.0 72.0 C546.7 72.0 553.3 72.0 560.0 71.9 C566.7 71.9 573.3 71.9 580.0 71.9 C586.7 71.9 593.3 71.8 600.0 71.8 C606.7 71.8 613.3 71.8 620.0 71.7 C626.7 71.7 633.3 71.7 640.0 71.7 C646.7 71.7 653.2 71.6 660.0 71.6 C666.8 71.6 677.4 71.6 680.9 71.6" stroke="#ff7a85" stroke-width="3.8"/>
<path d="M207.2 101.0 C208.5 100.1 212.7 97.3 214.8 95.5 C216.9 93.7 218.2 91.6 219.7 90.2 C221.2 88.8 221.8 88.1 224.0 87.0 C226.2 85.9 229.1 84.6 233.0 83.4 C236.9 82.2 241.1 80.9 247.2 79.7 C253.3 78.5 261.8 77.1 269.8 76.1 C277.8 75.1 287.3 74.3 295.3 73.8 C303.3 73.2 307.2 73.0 318.0 72.8 C328.8 72.6 346.3 72.6 360.0 72.6 C373.7 72.5 390.0 72.5 400.0 72.5 C410.0 72.5 413.3 72.4 420.0 72.4 C426.7 72.3 433.3 72.3 440.0 72.3 C446.7 72.3 453.3 72.3 460.0 72.2 C466.7 72.2 473.3 72.2 480.0 72.2 C486.7 72.2 493.3 72.1 500.0 72.1 C506.7 72.1 513.3 72.1 520.0 72.1 C526.7 72.0 533.3 72.0 540.0 72.0 C546.7 72.0 553.3 72.0 560.0 71.9 C566.7 71.9 573.3 71.9 580.0 71.9 C586.7 71.9 593.3 71.8 600.0 71.8 C606.7 71.8 613.3 71.8 620.0 71.7 C626.7 71.7 633.3 71.7 640.0 71.7 C646.7 71.7 653.2 71.6 660.0 71.6 C666.8 71.6 677.4 71.6 680.9 71.6" stroke="#ff7a85" stroke-width="4.8" stroke-dasharray="1.3 1.7"/>
<line x1="177.2" y1="447.7" x2="470" y2="447.7" stroke="#0000b4" stroke-width="2.4" stroke-dasharray="3 1.2 5 0.8 2 1.5"/>
<path d="M208.9 85.6 C210.6 84.6 213.8 81.2 218.8 79.7 C223.8 78.2 231.6 77.8 238.7 76.9 C245.8 76.0 252.8 75.1 261.3 74.4 C269.8 73.7 278.2 73.1 289.6 72.8 C301.1 72.5 311.6 72.5 330.0 72.4 C348.4 72.3 385.0 71.9 400.0 72.2 C415.0 72.5 413.3 73.7 420.0 74.0 C426.7 74.3 433.3 73.9 440.0 73.9 C446.7 73.9 453.3 73.9 460.0 73.8 C466.7 73.8 473.3 73.8 480.0 73.8 C486.7 73.8 493.3 73.7 500.0 73.7 C506.7 73.7 513.3 73.7 520.0 73.7 C526.7 73.6 533.3 73.6 540.0 73.6 C546.7 73.6 553.3 73.6 560.0 73.5 C566.7 73.5 573.3 73.5 580.0 73.5 C586.7 73.5 593.3 73.4 600.0 73.4 C606.7 73.4 613.3 73.4 620.0 73.3 C626.7 73.3 633.3 73.3 640.0 73.3 C646.7 73.3 653.2 73.2 660.0 73.2 C666.8 73.2 677.4 73.2 680.9 73.2" stroke="#ff9c5e" stroke-width="4.0"/>
<path d="M208.9 85.6 C210.6 84.6 213.8 81.2 218.8 79.7 C223.8 78.2 231.6 77.8 238.7 76.9 C245.8 76.0 252.8 75.1 261.3 74.4 C269.8 73.7 278.2 73.1 289.6 72.8 C301.1 72.5 311.6 72.5 330.0 72.4 C348.4 72.3 385.0 71.9 400.0 72.2 C415.0 72.5 413.3 73.7 420.0 74.0 C426.7 74.3 433.3 73.9 440.0 73.9 C446.7 73.9 453.3 73.9 460.0 73.8 C466.7 73.8 473.3 73.8 480.0 73.8 C486.7 73.8 493.3 73.7 500.0 73.7 C506.7 73.7 513.3 73.7 520.0 73.7 C526.7 73.6 533.3 73.6 540.0 73.6 C546.7 73.6 553.3 73.6 560.0 73.5 C566.7 73.5 573.3 73.5 580.0 73.5 C586.7 73.5 593.3 73.4 600.0 73.4 C606.7 73.4 613.3 73.4 620.0 73.3 C626.7 73.3 633.3 73.3 640.0 73.3 C646.7 73.3 653.2 73.2 660.0 73.2 C666.8 73.2 677.4 73.2 680.9 73.2" stroke="#ff9c5e" stroke-width="5.0" stroke-dasharray="1.3 1.7"/>
<path d="M212.0 82.5 C213.1 81.6 215.5 78.3 218.5 77.0 C221.5 75.7 223.1 75.2 230.0 74.6 C236.9 74.0 248.3 73.5 260.0 73.2 C271.7 72.9 276.7 72.7 300.0 72.5 C323.3 72.3 380.0 72.0 400.0 72.2 C420.0 72.4 413.3 73.4 420.0 73.7 C426.7 73.9 433.3 73.6 440.0 73.6 C446.7 73.6 453.3 73.6 460.0 73.5 C466.7 73.5 473.3 73.5 480.0 73.5 C486.7 73.5 493.3 73.4 500.0 73.4 C506.7 73.4 513.3 73.4 520.0 73.4 C526.7 73.3 533.3 73.3 540.0 73.3 C546.7 73.3 553.3 73.3 560.0 73.2 C566.7 73.2 573.3 73.2 580.0 73.2 C586.7 73.2 593.3 73.1 600.0 73.1 C606.7 73.1 613.3 73.1 620.0 73.0 C626.7 73.0 633.3 73.0 640.0 73.0 C646.7 73.0 653.2 72.9 660.0 72.9 C666.8 72.9 677.4 72.9 680.9 72.9" stroke="#ffc431" stroke-width="4.8"/>
<path d="M212.0 82.5 C213.1 81.6 215.5 78.3 218.5 77.0 C221.5 75.7 223.1 75.2 230.0 74.6 C236.9 74.0 248.3 73.5 260.0 73.2 C271.7 72.9 276.7 72.7 300.0 72.5 C323.3 72.3 380.0 72.0 400.0 72.2 C420.0 72.4 413.3 73.4 420.0 73.7 C426.7 73.9 433.3 73.6 440.0 73.6 C446.7 73.6 453.3 73.6 460.0 73.5 C466.7 73.5 473.3 73.5 480.0 73.5 C486.7 73.5 493.3 73.4 500.0 73.4 C506.7 73.4 513.3 73.4 520.0 73.4 C526.7 73.3 533.3 73.3 540.0 73.3 C546.7 73.3 553.3 73.3 560.0 73.2 C566.7 73.2 573.3 73.2 580.0 73.2 C586.7 73.2 593.3 73.1 600.0 73.1 C606.7 73.1 613.3 73.1 620.0 73.0 C626.7 73.0 633.3 73.0 640.0 73.0 C646.7 73.0 653.2 72.9 660.0 72.9 C666.8 72.9 677.4 72.9 680.9 72.9" stroke="#ffc431" stroke-width="5.8" stroke-dasharray="1.3 1.7"/>
<path d="M214.6 78.0 C215.2 77.3 216.8 74.7 218.5 73.8 C220.2 72.9 219.8 72.8 225.0 72.5 C230.2 72.2 237.5 72.1 250.0 72.0 C262.5 71.9 275.0 71.8 300.0 71.8 C325.0 71.8 380.0 71.8 400.0 71.8 C420.0 71.8 413.3 71.8 420.0 71.8 C426.7 71.8 433.3 71.7 440.0 71.7 C446.7 71.7 453.3 71.7 460.0 71.6 C466.7 71.6 473.3 71.6 480.0 71.6 C486.7 71.6 493.3 71.5 500.0 71.5 C506.7 71.5 513.3 71.5 520.0 71.5 C526.7 71.4 533.3 71.4 540.0 71.4 C546.7 71.4 553.3 71.4 560.0 71.3 C566.7 71.3 573.3 71.3 580.0 71.3 C586.7 71.3 593.3 71.2 600.0 71.2 C606.7 71.2 613.3 71.2 620.0 71.1 C626.7 71.1 633.3 71.1 640.0 71.1 C646.7 71.1 653.2 71.0 660.0 71.0 C666.8 71.0 677.4 71.0 680.9 71.0" stroke="#ffc826" stroke-width="5.0"/>
<path d="M214.6 78.0 C215.2 77.3 216.8 74.7 218.5 73.8 C220.2 72.9 219.8 72.8 225.0 72.5 C230.2 72.2 237.5 72.1 250.0 72.0 C262.5 71.9 275.0 71.8 300.0 71.8 C325.0 71.8 380.0 71.8 400.0 71.8 C420.0 71.8 413.3 71.8 420.0 71.8 C426.7 71.8 433.3 71.7 440.0 71.7 C446.7 71.7 453.3 71.7 460.0 71.6 C466.7 71.6 473.3 71.6 480.0 71.6 C486.7 71.6 493.3 71.5 500.0 71.5 C506.7 71.5 513.3 71.5 520.0 71.5 C526.7 71.4 533.3 71.4 540.0 71.4 C546.7 71.4 553.3 71.4 560.0 71.3 C566.7 71.3 573.3 71.3 580.0 71.3 C586.7 71.3 593.3 71.2 600.0 71.2 C606.7 71.2 613.3 71.2 620.0 71.1 C626.7 71.1 633.3 71.1 640.0 71.1 C646.7 71.1 653.2 71.0 660.0 71.0 C666.8 71.0 677.4 71.0 680.9 71.0" stroke="#ffc826" stroke-width="6.0" stroke-dasharray="1.3 1.7"/>
</g>
<path d="M300.0 76.3h2.2v1.9h-2.2zM312.7 68.2h1.8v1.2h-1.8zM350.7 67.8h1.8v1.4h-1.8zM363.3 68.3h1.3v1.0h-1.3zM398.8 67.9h1.7v1.2h-1.7zM403.8 67.7h1.5v1.9h-1.5zM410.7 76.2h1.9v1.7h-1.9zM448.9 76.4h1.2v1.5h-1.2zM452.4 75.8h1.8v1.7h-1.8zM466.9 75.6h1.6v2.0h-1.6zM506.1 68.2h1.2v1.2h-1.2zM597.8 75.3h1.6v1.3h-1.6zM607.6 67.2h1.4v1.8h-1.4zM664.4 67.1h1.8v1.2h-1.8z" fill="#ff7a85" fill-opacity="0.8"/>
<path d="M304.0 76.8h1.3v1.5h-1.3zM325.1 69.0h1.3v1.9h-1.3zM348.2 76.5h1.2v1.6h-1.2zM355.0 68.8h2.0v1.4h-2.0zM402.1 75.8h2.2v1.4h-2.2zM457.9 75.6h1.4v1.1h-1.4zM479.9 75.3h1.9v1.1h-1.9zM491.8 67.8h1.2v1.1h-1.2zM502.9 68.2h2.1v1.5h-2.1zM515.9 75.5h1.8v1.1h-1.8zM567.9 76.1h1.1v1.1h-1.1zM569.6 75.5h1.8v1.1h-1.8zM589.4 67.8h1.8v1.1h-1.8zM615.1 67.1h1.5v1.7h-1.5zM621.2 67.7h1.1v1.8h-1.1zM624.3 67.1h2.0v1.4h-2.0zM671.7 67.7h1.6v1.2h-1.6z" fill="#bb22dd" fill-opacity="0.8"/>
<path d="M305.5 76.6h1.2v1.5h-1.2zM317.9 68.0h1.4v1.2h-1.4zM335.4 68.9h2.4v1.0h-2.4zM341.8 68.5h1.5v1.1h-1.5zM396.5 76.4h1.2v1.6h-1.2zM482.8 75.2h2.0v1.7h-2.0zM521.1 76.1h2.3v1.7h-2.3zM539.5 76.3h2.3v1.6h-2.3zM552.5 75.8h1.7v1.3h-1.7zM574.0 67.9h1.9v1.7h-1.9zM583.9 68.1h2.1v1.2h-2.1zM618.7 67.3h1.6v1.8h-1.6zM655.9 67.6h1.4v1.9h-1.4zM666.2 75.7h1.9v1.9h-1.9zM676.2 75.7h2.1v1.1h-2.1z" fill="#3c00ff" fill-opacity="0.8"/>
<path d="M308.7 75.9h2.4v1.7h-2.4zM309.9 68.0h1.1v1.2h-1.1zM313.9 77.0h1.6v1.3h-1.6zM321.6 67.9h1.2v1.3h-1.2zM327.6 76.1h1.8v1.2h-1.8zM338.6 67.8h1.1v1.1h-1.1zM343.1 76.2h1.5v1.5h-1.5zM346.2 76.7h1.3v1.2h-1.3zM361.2 67.8h1.4v1.9h-1.4zM367.7 76.4h1.5v1.9h-1.5zM375.7 76.7h1.1v1.5h-1.1zM383.5 67.7h2.3v1.0h-2.3zM386.9 68.4h1.8v1.6h-1.8zM391.3 76.2h2.0v1.4h-2.0zM394.0 67.8h1.7v1.5h-1.7zM395.3 75.8h1.7v1.6h-1.7zM436.5 76.6h1.3v1.9h-1.3zM444.7 76.2h1.6v1.0h-1.6zM472.6 75.4h1.3v1.6h-1.3zM510.6 75.2h1.8v1.1h-1.8zM542.6 67.8h1.9v1.8h-1.9zM594.1 75.9h2.1v1.4h-2.1zM604.5 75.4h1.6v1.3h-1.6zM611.0 75.2h2.0v1.5h-2.0zM632.6 75.1h1.8v1.3h-1.8zM634.7 74.9h2.3v1.1h-2.3zM644.9 67.8h2.0v1.9h-2.0z" fill="#ef42ba" fill-opacity="0.8"/>
<path d="M329.8 68.1h2.3v1.8h-2.3zM331.3 75.9h1.7v1.5h-1.7zM373.4 68.5h1.0v1.6h-1.0zM412.9 75.8h1.4v1.6h-1.4zM415.3 68.4h1.9v1.4h-1.9zM422.1 67.8h2.1v1.5h-2.1zM476.4 67.7h1.0v1.2h-1.0zM513.3 68.1h2.2v1.2h-2.2zM528.5 75.5h1.3v1.9h-1.3zM546.3 68.2h1.5v1.9h-1.5zM550.3 67.6h1.6v1.5h-1.6zM556.2 67.3h1.0v1.2h-1.0zM571.4 67.3h1.5v1.2h-1.5zM588.1 67.1h1.9v1.0h-1.9zM628.7 75.6h1.8v1.6h-1.8zM648.3 75.9h2.1v1.8h-2.1zM661.2 67.5h1.4v1.2h-1.4z" fill="#e23cc2" fill-opacity="0.8"/>
<path d="M334.2 68.9h1.6v1.4h-1.6zM357.9 68.3h2.3v2.0h-2.3zM371.2 68.1h1.8v1.9h-1.8zM379.3 68.5h2.1v1.9h-2.1zM408.2 76.5h1.2v1.5h-1.2zM417.4 67.7h2.1v2.0h-2.1zM425.9 75.5h1.6v1.8h-1.6zM455.4 75.7h1.7v1.8h-1.7zM469.6 76.4h1.5v1.9h-1.5zM486.1 75.5h1.8v1.9h-1.8zM488.0 76.3h1.3v1.7h-1.3zM496.1 75.3h1.3v1.6h-1.3zM526.1 67.3h1.1v1.3h-1.1zM531.9 75.9h1.7v1.4h-1.7zM577.9 67.2h2.3v1.7h-2.3zM627.5 75.1h1.2v1.8h-1.2zM653.3 67.1h2.4v1.4h-2.4zM658.1 67.3h2.1v1.2h-2.1z" fill="#ff5ea1" fill-opacity="0.8"/>
<path d="M420.4 68.1h2.3v1.7h-2.3zM432.6 68.3h1.6v1.7h-1.6zM439.5 68.1h1.4v1.7h-1.4zM440.8 67.5h1.8v1.8h-1.8zM490.3 75.4h2.2v1.2h-2.2zM499.2 67.9h2.3v2.0h-2.3zM523.6 76.0h2.2v1.7h-2.2zM563.5 67.6h1.1v1.9h-1.1zM582.1 75.8h1.4v1.6h-1.4zM592.5 67.6h1.7v1.4h-1.7zM601.2 75.0h1.4v1.8h-1.4zM651.6 67.3h2.0v1.8h-2.0zM680.3 67.7h1.6v1.2h-1.6z" fill="#1400ff" fill-opacity="0.8"/>
<path d="M430.2 76.5h1.2v1.5h-1.2zM460.7 75.3h1.8v1.5h-1.8zM465.1 67.5h1.8v2.0h-1.8zM512.1 67.9h1.7v1.5h-1.7zM517.4 75.5h1.8v1.2h-1.8zM535.4 76.0h2.4v1.0h-2.4zM537.5 75.0h1.7v1.8h-1.7zM559.9 67.8h1.1v1.3h-1.1zM638.3 75.4h1.3v1.2h-1.3zM642.1 67.0h1.5v1.8h-1.5zM669.0 75.8h2.3v1.3h-2.3z" fill="#0000a8" fill-opacity="0.8"/>
<line x1="148.4" y1="526.4" x2="264.6" y2="619.3" stroke="#ff0000" stroke-width="1.4" stroke-dasharray="6.6 4.4"/>
<line x1="148.4" y1="600.2" x2="276.0" y2="711.5" stroke="#006400" stroke-width="1.4" stroke-dasharray="6.6 4.4"/>
<line x1="148.4" y1="653.5" x2="287.2" y2="769.3" stroke="#0000ff" stroke-width="1.4" stroke-dasharray="6.6 4.4"/>
<path d="M586.5 896.3 L592.0 905.7 L581.1 905.7 Z" fill="#ff0000"/>
<path d="M549.9 881.7 L555.4 891.1 L544.5 891.1 Z" fill="#ff0000"/>
<path d="M514.8 867.2 L520.3 876.6 L509.4 876.6 Z" fill="#ff0000"/>
<path d="M463.9 838.1 L469.4 847.5 L458.5 847.5 Z" fill="#ff0000"/>
<path d="M428.5 809.0 L434.0 818.4 L423.1 818.4 Z" fill="#ff0000"/>
<path d="M397.9 779.9 L403.4 789.3 L392.5 789.3 Z" fill="#ff0000"/>
<path d="M368.9 750.8 L374.4 760.1 L363.5 760.1 Z" fill="#ff0000"/>
<path d="M343.5 721.6 L349.0 731.0 L338.1 731.0 Z" fill="#ff0000"/>
<path d="M322.9 692.5 L328.3 701.9 L317.4 701.9 Z" fill="#ff0000"/>
<path d="M300.9 663.4 L306.3 672.8 L295.4 672.8 Z" fill="#ff0000"/>
<path d="M275.2 634.3 L280.7 643.7 L269.8 643.7 Z" fill="#ff0000"/>
<path d="M254.4 605.2 L259.9 614.6 L249.0 614.6 Z" fill="#ff0000"/>
<path d="M217.9 576.1 L223.4 585.5 L212.5 585.5 Z" fill="#ff0000"/>
<circle cx="533.2" cy="902.6" r="5.55" fill="#006400"/>
<circle cx="506.9" cy="888.0" r="5.55" fill="#006400"/>
<circle cx="469.3" cy="873.5" r="5.55" fill="#006400"/>
<circle cx="416.3" cy="844.4" r="5.55" fill="#006400"/>
<circle cx="378.1" cy="815.3" r="5.55" fill="#006400"/>
<circle cx="345.8" cy="786.2" r="5.55" fill="#006400"/>
<circle cx="315.7" cy="757.0" r="5.55" fill="#006400"/>
<circle cx="288.6" cy="727.9" r="5.55" fill="#006400"/>
<circle cx="261.2" cy="698.8" r="5.55" fill="#006400"/>
<circle cx="228.0" cy="669.7" r="5.55" fill="#006400"/>
<rect x="486.9" y="897.8" width="9.7" height="9.7" fill="#0000ff"/>
<rect x="463.6" y="883.2" width="9.7" height="9.7" fill="#0000ff"/>
<rect x="431.6" y="868.6" width="9.7" height="9.7" fill="#0000ff"/>
<rect x="377.5" y="839.5" width="9.7" height="9.7" fill="#0000ff"/>
<rect x="337.9" y="810.4" width="9.7" height="9.7" fill="#0000ff"/>
<rect x="302.4" y="781.3" width="9.7" height="9.7" fill="#0000ff"/>
<rect x="267.3" y="752.2" width="9.7" height="9.7" fill="#0000ff"/>
<rect x="232.2" y="723.1" width="9.7" height="9.7" fill="#0000ff"/>
<line x1="148.4" y1="786.6" x2="259.9" y2="786.6" stroke="#800080" stroke-width="1.4"/>
<line x1="259.9" y1="779.0" x2="259.9" y2="794.2" stroke="#800080" stroke-width="1.4"/>
<path d="M148.4 779.7 L155.4 786.6 L148.4 793.5 L141.4 786.6 Z" fill="#800080"/>
<path d="M428.3 867.0 L435.3 873.9 L428.3 880.8 L421.3 873.9 Z" fill="#800080"/>
<path d="M465.7 895.7 L472.7 902.6 L465.7 909.5 L458.7 902.6 Z" fill="#800080"/>
<text transform="translate(10.6,57.4) scale(1.000,1.000)" font-family="Liberation Sans, sans-serif" font-size="29.7" fill="#000" text-anchor="start" >(a)</text>
<text transform="translate(10.8,493.7) scale(1.000,1.000)" font-family="Liberation Sans, sans-serif" font-size="29.7" fill="#000" text-anchor="start" >(b)</text>
<text transform="translate(132.4,456.7) scale(1.000,1.025)" font-family="Liberation Sans, sans-serif" font-size="29.7" fill="#000" text-anchor="end" >0</text>
<text transform="translate(133.6,373.9) scale(1.000,1.025)" font-family="Liberation Sans, sans-serif" font-size="29.7" fill="#000" text-anchor="end" >2</text>
<text transform="translate(132.4,291.0) scale(1.000,1.025)" font-family="Liberation Sans, sans-serif" font-size="29.7" fill="#000" text-anchor="end" >4</text>
<text transform="translate(132.4,208.2) scale(1.000,1.025)" font-family="Liberation Sans, sans-serif" font-size="29.7" fill="#000" text-anchor="end" >6</text>
<text transform="translate(132.4,124.3) scale(1.000,1.025)" font-family="Liberation Sans, sans-serif" font-size="29.7" fill="#000" text-anchor="end" >8</text>
<text transform="translate(132.4,41.9) scale(1.000,1.025)" font-family="Liberation Sans, sans-serif" font-size="29.7" fill="#000" text-anchor="end" >10</text>
<text transform="translate(132.4,915.0) scale(1.000,1.025)" font-family="Liberation Sans, sans-serif" font-size="29.7" fill="#000" text-anchor="end" >0</text>
<text transform="translate(132.4,842.3) scale(1.000,1.025)" font-family="Liberation Sans, sans-serif" font-size="29.7" fill="#000" text-anchor="end" >50</text>
<text transform="translate(132.4,770.0) scale(1.000,1.025)" font-family="Liberation Sans, sans-serif" font-size="29.7" fill="#000" text-anchor="end" >100</text>
<text transform="translate(132.4,695.0) scale(1.000,1.025)" font-family="Liberation Sans, sans-serif" font-size="29.7" fill="#000" text-anchor="end" >150</text>
<text transform="translate(132.4,622.6) scale(1.000,1.025)" font-family="Liberation Sans, sans-serif" font-size="29.7" fill="#000" text-anchor="end" >200</text>
<text transform="translate(132.4,550.0) scale(1.000,1.025)" font-family="Liberation Sans, sans-serif" font-size="29.7" fill="#000" text-anchor="end" >250</text>
<text transform="translate(153.4,949.8) scale(1.000,1.025)" font-family="Liberation Sans, sans-serif" font-size="29.7" fill="#000" text-anchor="middle" >0</text>
<text transform="translate(285.8,949.8) scale(1.000,1.025)" font-family="Liberation Sans, sans-serif" font-size="29.7" fill="#000" text-anchor="middle" >0.5</text>
<text transform="translate(418.1,949.8) scale(1.000,1.025)" font-family="Liberation Sans, sans-serif" font-size="29.7" fill="#000" text-anchor="middle" >1</text>
<text transform="translate(550.5,949.8) scale(1.000,1.025)" font-family="Liberation Sans, sans-serif" font-size="29.7" fill="#000" text-anchor="middle" >1.5</text>
<text transform="translate(682.9,949.8) scale(1.000,1.025)" font-family="Liberation Sans, sans-serif" font-size="29.7" fill="#000" text-anchor="middle" >2</text>
<text transform="translate(415.0,1002.5) scale(1.000,1.000)" font-family="Liberation Sans, sans-serif" font-size="29.7" fill="#000" text-anchor="middle" >Temperature (K)</text>
<text transform="translate(57.8,248.2) rotate(-90)" font-family="Liberation Sans, sans-serif" font-size="30.3" text-anchor="middle">Resistivity (mΩ cm)</text>
<text transform="translate(38.6,761.3) rotate(-90)" font-family="Liberation Sans, sans-serif" font-size="30.9"><tspan x="-0.5" font-style="italic">μ</tspan><tspan x="16.9" font-size="25.3" dy="5.8">0</tspan><tspan x="29.5" dy="-5.8" font-style="italic">H</tspan><tspan x="50.2" font-size="25.3" dy="5.8">c2</tspan><tspan x="82.6" dy="-5.8" font-size="31.2">(mT)</tspan></text>
<text transform="translate(331.2,59.6) scale(1.000,1.020)" font-family="Liberation Sans, sans-serif" font-size="25.6" fill="#6c00ff" text-anchor="start" >120</text>
<text transform="translate(376.7,59.6) scale(1.000,1.020)" font-family="Liberation Sans, sans-serif" font-size="25.6" fill="#4000ff" text-anchor="start" >100</text>
<text transform="translate(426.1,59.6) scale(1.000,1.020)" font-family="Liberation Sans, sans-serif" font-size="25.6" fill="#1400ff" text-anchor="start" >80</text>
<text transform="translate(461.4,59.6) scale(1.000,1.020)" font-family="Liberation Sans, sans-serif" font-size="25.6" fill="#0000e0" text-anchor="start" >60</text>
<text transform="translate(495.9,59.6) scale(1.000,1.020)" font-family="Liberation Sans, sans-serif" font-size="25.6" fill="#0000a8" text-anchor="start" >40</text>
<text transform="translate(528.9,59.6) scale(1.000,1.020)" font-family="Liberation Sans, sans-serif" font-size="25.6" fill="#000070" text-anchor="start" >20</text>
<text transform="translate(567.0,59.6) scale(1.000,1.020)" font-family="Liberation Sans, sans-serif" font-size="25.6" fill="#000038" text-anchor="start" >10</text>
<text transform="translate(149.2,79.3) scale(1.000,1.020)" font-family="Liberation Sans, sans-serif" font-size="25.6" fill="#ff9358" text-anchor="start" >&gt;240</text>
<text transform="translate(161.6,116.8) scale(1.000,1.020)" font-family="Liberation Sans, sans-serif" font-size="25.6" fill="#ff7a85" text-anchor="start" >220</text>
<text transform="translate(153.2,163.0) scale(1.000,1.020)" font-family="Liberation Sans, sans-serif" font-size="25.6" fill="#ff5ea1" text-anchor="start" >200</text>
<text transform="translate(149.4,230.0) scale(1.000,1.020)" font-family="Liberation Sans, sans-serif" font-size="25.6" fill="#ef42bd" text-anchor="start" >180</text>
<text transform="translate(149.0,350.0) scale(1.000,1.020)" font-family="Liberation Sans, sans-serif" font-size="25.6" fill="#c326d9" text-anchor="start" >160</text>
<text transform="translate(149.0,424.5) scale(1.000,1.020)" font-family="Liberation Sans, sans-serif" font-size="25.6" fill="#970af5" text-anchor="start" >140</text>
<text transform="translate(652.4,123.2) scale(1.000,1.025)" font-family="Liberation Sans, sans-serif" font-size="29.7" fill="#000" text-anchor="end" >95%</text>
<text transform="translate(652.4,250.1) scale(1.000,1.025)" font-family="Liberation Sans, sans-serif" font-size="29.7" fill="#000" text-anchor="end" >50%</text>
<text transform="translate(652.4,419.0) scale(1.000,1.025)" font-family="Liberation Sans, sans-serif" font-size="29.7" fill="#000" text-anchor="end" >5%</text>
<text x="544.5" y="309.9" font-family="Liberation Sans, sans-serif" font-size="26.5"><tspan font-style="italic">μ</tspan><tspan font-size="20.5" dy="5">0</tspan><tspan dy="-5" font-style="italic">H</tspan><tspan dx="0.8"> =</tspan></text>
<text transform="translate(544.8,338.3) scale(1.000,1.000)" font-family="Liberation Sans, sans-serif" font-size="26.0" fill="#000" text-anchor="start" >0 mT</text>
<text transform="translate(169.8,538.8) scale(1.000,1.025)" font-family="Liberation Sans, sans-serif" font-size="29.7" fill="#ff0000" text-anchor="start" >95%</text>
<text transform="translate(169.8,619.5) scale(1.000,1.025)" font-family="Liberation Sans, sans-serif" font-size="29.7" fill="#006400" text-anchor="start" >50%</text>
<text transform="translate(186.6,753.0) scale(1.000,1.025)" font-family="Liberation Sans, sans-serif" font-size="29.7" fill="#0000ff" text-anchor="start" >5%</text>
<text x="165.5" y="827.7" font-family="Liberation Sans, sans-serif" font-size="29.7" fill="#800080"><tspan font-style="italic">T</tspan><tspan font-size="23.5" dy="6.2">c</tspan><tspan dy="-6.2" dx="1.2"> by </tspan><tspan font-style="italic" dx="1.2">C</tspan><tspan font-size="23.5" dy="6.2" dx="1.2" font-style="italic">e</tspan></text>
<line x1="413.1" y1="30.1" x2="413.1" y2="44.2" stroke="#111" stroke-width="1.3"/>
<line x1="545.5" y1="30.1" x2="545.5" y2="44.2" stroke="#111" stroke-width="1.3"/>
</svg>
</body></html>
